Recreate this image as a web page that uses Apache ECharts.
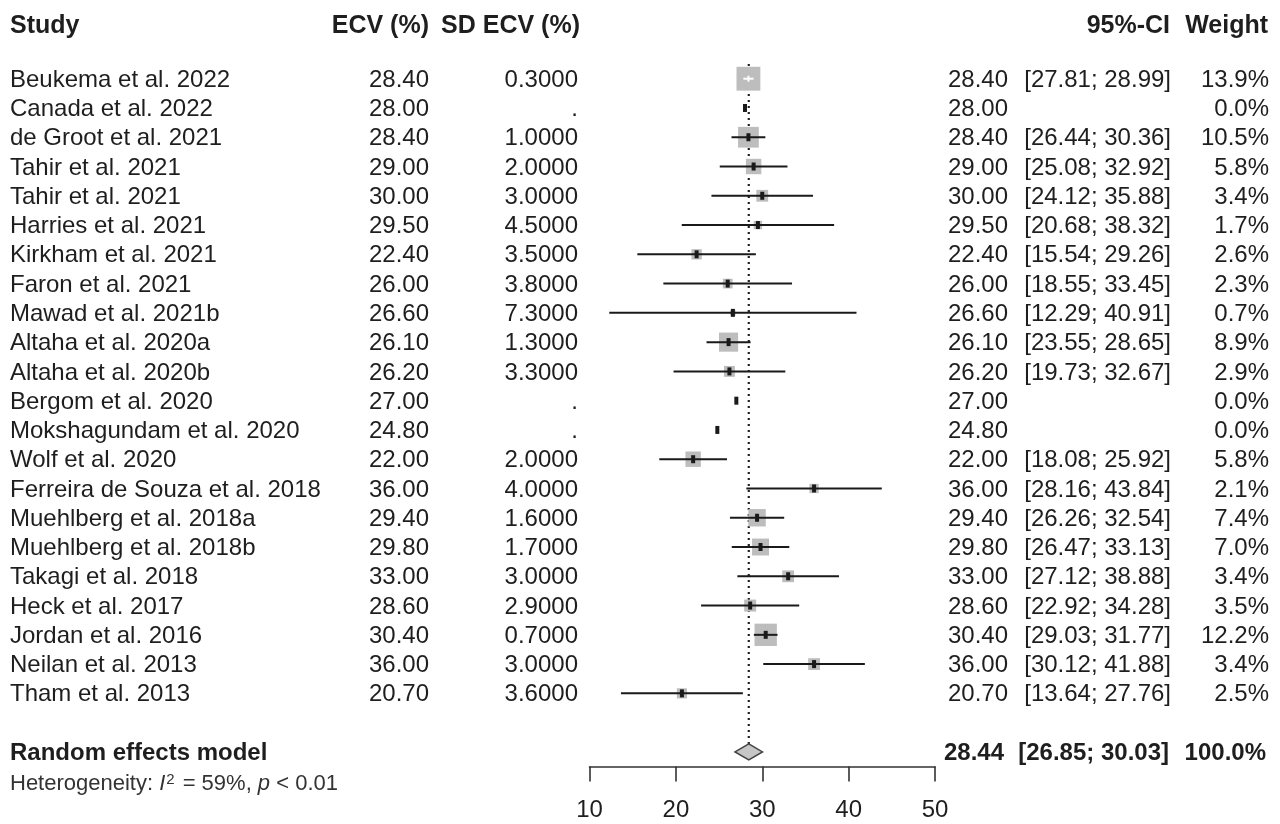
<!DOCTYPE html>
<html>
<head>
<meta charset="utf-8">
<script src="https://cdn.jsdelivr.net/npm/echarts@6/dist/echarts.min.js"></script>
<style>
  html, body { margin: 0; padding: 0; background: #fff; }
  #main { width: 1280px; height: 824px; }
</style>
</head>
<body>
<div id="main"></div>
<script>
// forest plot data, one entry per study
var studies = ['Beukema et al. 2022', 'Canada et al. 2022', 'de Groot et al. 2021', 'Tahir et al. 2021',
  'Tahir et al. 2021', 'Harries et al. 2021', 'Kirkham et al. 2021', 'Faron et al. 2021',
  'Mawad et al. 2021b', 'Altaha et al. 2020a', 'Altaha et al. 2020b', 'Bergom et al. 2020',
  'Mokshagundam et al. 2020', 'Wolf et al. 2020', 'Ferreira de Souza et al. 2018', 'Muehlberg et al. 2018a',
  'Muehlberg et al. 2018b', 'Takagi et al. 2018', 'Heck et al. 2017', 'Jordan et al. 2016',
  'Neilan et al. 2013', 'Tham et al. 2013'];
var ecv = [28.40, 28.00, 28.40, 29.00, 30.00, 29.50, 22.40, 26.00, 26.60, 26.10, 26.20, 27.00,
  24.80, 22.00, 36.00, 29.40, 29.80, 33.00, 28.60, 30.40, 36.00, 20.70];
var sdEcv = [0.3, null, 1.0, 2.0, 3.0, 4.5, 3.5, 3.8, 7.3, 1.3, 3.3, null,
  null, 2.0, 4.0, 1.6, 1.7, 3.0, 2.9, 0.7, 3.0, 3.6];
var ciLow = [27.81, null, 26.44, 25.08, 24.12, 20.68, 15.54, 18.55, 12.29, 23.55, 19.73, null,
  null, 18.08, 28.16, 26.26, 26.47, 27.12, 22.92, 29.03, 30.12, 13.64];
var ciHigh = [28.99, null, 30.36, 32.92, 35.88, 38.32, 29.26, 33.45, 40.91, 28.65, 32.67, null,
  null, 25.92, 43.84, 32.54, 33.13, 38.88, 34.28, 31.77, 41.88, 27.76];
var weights = [13.9, 0.0, 10.5, 5.8, 3.4, 1.7, 2.6, 2.3, 0.7, 8.9, 2.9, 0.0,
  0.0, 5.8, 2.1, 7.4, 7.0, 3.4, 3.5, 12.2, 3.4, 2.5];

// random effects model
var pooledEst = 28.44;
var pooledLow = 26.85;
var pooledHigh = 30.03;
var pooledWeight = 100.0;
var heterogeneity = { i2: 59, p: '< 0.01' };

var xMin = 10, xMax = 50, xStep = 10;

var FONT = "'Liberation Sans', Arial, sans-serif";
var TXT = '#1e1e1e';

var myChart = echarts.init(document.getElementById('main'));

var nRows = studies.length;
var pooledRow = nRows + 1;

// text columns: x pixel and alignment
var cols = [
  { x: 10, align: 'left' },
  { x: 429, align: 'right' },
  { x: 578, align: 'right' },
  { x: 1008, align: 'right' },
  { x: 1171, align: 'right' },
  { x: 1269, align: 'right' }
];

var tableRows = [];
tableRows.push({ row: -1.85, bold: true, size: 25, cells: ['Study', 'ECV (%)', 'SD ECV (%)', '', '95%-CI', 'Weight'],
  xs: [10, 429, 580, null, 1170, 1268] });
for (var i = 0; i < nRows; i++) {
  tableRows.push({
    row: i,
    bold: false,
    size: 24,
    cells: [
      studies[i],
      ecv[i].toFixed(2),
      sdEcv[i] == null ? '.' : sdEcv[i].toFixed(4),
      ecv[i].toFixed(2),
      ciLow[i] == null ? '' : '[' + ciLow[i].toFixed(2) + '; ' + ciHigh[i].toFixed(2) + ']',
      weights[i].toFixed(1) + '%'
    ]
  });
}
tableRows.push({
  row: pooledRow, bold: true, size: 24,
  cells: ['Random effects model', '', '', pooledEst.toFixed(2),
    '[' + pooledLow.toFixed(2) + '; ' + pooledHigh.toFixed(2) + ']', pooledWeight.toFixed(1) + '%'],
  xs: [10, null, null, 1004, 1169, 1266]
});

var option = {
  animation: false,
  grid: { left: 589.5, width: 345.5, top: 78.7 - 2 * 29.27, height: 25.5 * 29.27 },
  xAxis: {
    type: 'value',
    min: xMin,
    max: xMax,
    interval: xStep,
    splitLine: { show: false },
    axisLine: { show: true, onZero: false, lineStyle: { color: '#333', width: 1.6 } },
    axisTick: { show: true, length: 15, lineStyle: { color: '#333', width: 1.6 } },
    axisLabel: { color: TXT, fontSize: 24, fontFamily: FONT, margin: 32 }
  },
  yAxis: {
    type: 'value',
    inverse: true,
    min: -2,
    max: pooledRow + 0.5,
    show: false
  },
  series: [
    {
      // dotted line at the pooled estimate
      type: 'line',
      symbol: 'none',
      z: 1,
      lineStyle: { color: '#222', width: 2.2, type: [2, 4] },
      data: [[pooledEst, -0.5], [pooledEst, pooledRow - 0.27]]
    },
    {
      // study squares and confidence intervals
      type: 'custom',
      z: 2,
      data: ecv.map(function (v, i) { return [v, i]; }),
      renderItem: function (params, api) {
        var i = params.dataIndex;
        var c = api.coord([api.value(0), api.value(1)]);
        var kids = [];
        var side = 6.4 * Math.sqrt(weights[i]);
        if (side > 0) {
          kids.push({
            type: 'rect',
            shape: { x: c[0] - side / 2, y: c[1] - side / 2, width: side, height: side },
            style: { fill: '#bdbdbd' }
          });
        }
        if (ciLow[i] != null) {
          var a = api.coord([ciLow[i], i]);
          var b = api.coord([ciHigh[i], i]);
          var inside = (b[0] - a[0]) < side;
          kids.push({
            type: 'line',
            shape: { x1: a[0], y1: c[1], x2: b[0], y2: c[1] },
            style: { stroke: inside ? '#fff' : '#1a1a1a', lineWidth: 2 }
          });
          if (inside) {
            kids.push({
              type: 'rect',
              shape: { x: c[0] - 1, y: c[1] - 3, width: 2, height: 6 },
              style: { fill: '#fff' }
            });
            return { type: 'group', children: kids };
          }
        }
        kids.push({
          type: 'rect',
          shape: { x: c[0] - 2, y: c[1] - 4, width: 4, height: 8 },
          style: { fill: '#1a1a1a' }
        });
        return { type: 'group', children: kids };
      }
    },
    {
      // pooled diamond
      type: 'custom',
      z: 3,
      data: [[pooledEst, pooledRow]],
      renderItem: function (params, api) {
        var m = api.coord([pooledEst, pooledRow]);
        var l = api.coord([pooledLow, pooledRow]);
        var r = api.coord([pooledHigh, pooledRow]);
        var h = 8;
        return {
          type: 'polygon',
          shape: { points: [[l[0], m[1]], [m[0], m[1] - h], [r[0], m[1]], [m[0], m[1] + h]] },
          style: { fill: '#c6c6c6', stroke: '#444', lineWidth: 1.5 }
        };
      }
    },
    {
      // table text
      type: 'custom',
      z: 4,
      data: tableRows.map(function (r) { return [xMin, r.row]; }),
      renderItem: function (params, api) {
        var r = tableRows[params.dataIndex];
        var y = api.coord([xMin, r.row])[1];
        var kids = [];
        r.cells.forEach(function (t, k) {
          if (!t) return;
          kids.push({
            type: 'text',
            style: {
              text: t,
              x: r.xs ? r.xs[k] : cols[k].x,
              y: y + 1.5,
              align: cols[k].align,
              verticalAlign: 'middle',
              textAlign: cols[k].align,
              textVerticalAlign: 'middle',
              font: (r.bold ? 'bold ' : '') + r.size + 'px ' + FONT,
              fill: TXT
            }
          });
        });
        return { type: 'group', children: kids };
      }
    },
    {
      // heterogeneity line
      type: 'custom',
      z: 4,
      data: [[xMin, pooledRow + 1.1]],
      renderItem: function (params, api) {
        var y = api.coord([xMin, pooledRow + 1.1])[1];
        return {
          type: 'text',
          style: {
            text: 'Heterogeneity: {it|I}{sup|2}{n|= ' + heterogeneity.i2 + '%, }{it|p}{n| ' + heterogeneity.p + '}',
            x: 10,
            y: y,
            verticalAlign: 'middle',
            textVerticalAlign: 'middle',
            font: '22px ' + FONT,
            fill: '#333',
            rich: {
              n: { fontSize: 22, fontFamily: FONT, fill: '#333', color: '#333' },
              it: { fontStyle: 'italic', fontSize: 22, fontFamily: FONT, fill: '#333', color: '#333' },
              sup: { fontSize: 15, fontFamily: FONT, verticalAlign: 'top', padding: [0, 8, 8, 1], fill: '#333', color: '#333' }
            }
          }
        };
      }
    }
  ]
};

myChart.setOption(option);
</script>
</body>
</html>
